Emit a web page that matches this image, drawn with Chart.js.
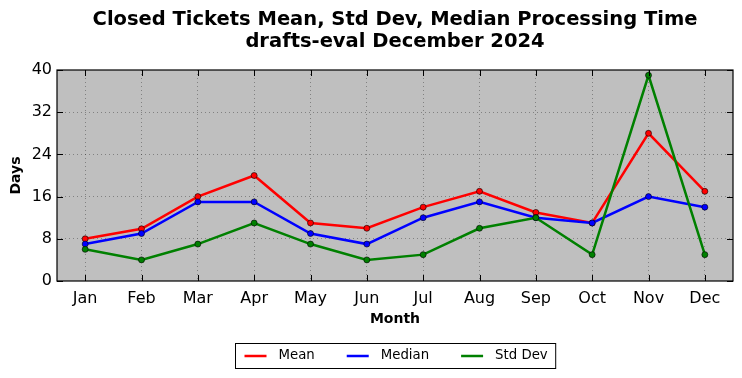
<!DOCTYPE html>
<html>
<head>
<meta charset="utf-8">
<script src="https://cdn.jsdelivr.net/npm/chart.js@4"></script>
<style>
html,body{margin:0;padding:0;background:#fff;}
#wrap{width:742px;height:378px;position:relative;}
</style>
</head>
<body>
<div id="wrap"><canvas id="c" width="742" height="378"></canvas></div>
<script>
const months = ['Jan','Feb','Mar','Apr','May','Jun','Jul','Aug','Sep','Oct','Nov','Dec'];
const meanDays = [8, 9.9, 16, 20, 11, 10, 14, 17, 13, 11, 28, 17];
const medianDays = [7, 9, 15, 15, 9, 7, 12, 15, 12, 11, 16, 14];
const stdDevDays = [6, 4, 7, 11, 7, 4, 5, 10, 12, 5, 39, 5];
const yTicks = [0, 8, 16, 24, 32, 40];
const seriesNames = ['Mean', 'Median', 'Std Dev'];
const seriesColors = ['#ff0000', '#0000ff', '#008000'];
const titleLines = ['Closed Tickets Mean, Std Dev, Median Processing Time', 'drafts-eval December 2024'];

const FONT = "'DejaVu Sans', 'Liberation Sans', sans-serif";

const framePlugin = {
  id: 'frame',
  beforeDraw(chart) {
    const {ctx, chartArea: a} = chart;
    ctx.save();
    ctx.fillStyle = '#bfbfbf';
    ctx.fillRect(a.left, a.top, a.right - a.left, a.bottom - a.top);
    ctx.restore();
  },
  afterDraw(chart) {
    const {ctx, chartArea: a} = chart;
    const xs = chart.scales.x, ys = chart.scales.y;
    ctx.save();
    ctx.strokeStyle = '#000';
    ctx.lineWidth = 1;
    ctx.beginPath();
    const tl = 6;
    xs.ticks.forEach((t, i) => {
      const x = Math.round(xs.getPixelForTick(i)) + 0.5;
      ctx.moveTo(x, a.bottom); ctx.lineTo(x, a.bottom - tl);
      ctx.moveTo(x, a.top); ctx.lineTo(x, a.top + tl);
    });
    ys.ticks.forEach((t, i) => {
      const y = Math.round(ys.getPixelForTick(i)) + 0.5;
      ctx.moveTo(a.left, y); ctx.lineTo(a.left + tl, y);
      ctx.moveTo(a.right, y); ctx.lineTo(a.right - tl, y);
    });
    ctx.stroke();
    ctx.lineWidth = 1.2;
    ctx.strokeRect(a.left, a.top, a.right - a.left, a.bottom - a.top);

    // legend
    ctx.font = '13.3px ' + FONT;
    ctx.textBaseline = 'middle';
    const padL = 9, padR = 8, lineLen = 22, lineGap = 12, itemGap = 32;
    const widths = seriesNames.map(n => ctx.measureText(n).width);
    let total = padL + padR;
    widths.forEach((w, i) => { total += lineLen + lineGap + w + (i < widths.length - 1 ? itemGap : 0); });
    const cx = (a.left + a.right) / 2;
    const bx = Math.round(cx - total / 2) + 0.5;
    const by = 343.5, bh = 25;
    ctx.fillStyle = '#fff';
    ctx.fillRect(bx, by, total, bh);
    ctx.strokeStyle = '#000';
    ctx.lineWidth = 1;
    ctx.strokeRect(bx, by, total, bh);
    let x = bx + padL;
    const ym = by + bh / 2;
    seriesNames.forEach((n, i) => {
      ctx.strokeStyle = seriesColors[i];
      ctx.lineWidth = 2.5;
      ctx.beginPath();
      ctx.moveTo(x, ym); ctx.lineTo(x + lineLen, ym);
      ctx.stroke();
      x += lineLen + lineGap;
      ctx.fillStyle = '#000';
      ctx.fillText(n, x, ym);
      x += widths[i] + itemGap;
    });
    ctx.restore();
  }
};

const seriesData = [meanDays, medianDays, stdDevDays];
const datasets = seriesNames.map((n, i) => ({
  label: n,
  data: seriesData[i],
  borderColor: seriesColors[i],
  backgroundColor: seriesColors[i],
  borderWidth: 2.5,
  pointRadius: 3,
  pointBorderColor: 'rgba(0,0,0,0.75)',
  pointBorderWidth: 0.8,
  pointBackgroundColor: seriesColors[i],
  tension: 0,
  fill: false,
  order: 2 - i
}));

const gridColor = 'rgba(0,0,0,0.32)';

new Chart(document.getElementById('c'), {
  type: 'line',
  data: { labels: months, datasets },
  options: {
    responsive: false,
    animation: false,
    devicePixelRatio: 1,
    layout: { padding: { left: 0, right: 9, top: 0, bottom: 50 } },
    plugins: {
      legend: { display: false },
      tooltip: { enabled: false },
      title: {
        display: true,
        text: titleLines,
        fullSize: false,
        color: '#000',
        font: { family: FONT, size: 19.5, weight: 'bold', lineHeight: 22 / 19.5 },
        padding: { top: 9, bottom: 17 }
      }
    },
    scales: {
      x: {
        type: 'category',
        offset: true,
        grid: {
          offset: false,
          drawTicks: false,
          color: gridColor,
          lineWidth: 1
        },
        border: { display: false, dash: [1, 3] },
        ticks: { color: '#000', padding: 8, font: { family: FONT, size: 16 }, maxRotation: 0, autoSkip: false },
        title: { display: true, text: 'Month', color: '#000', font: { family: FONT, size: 14, weight: 'bold' }, padding: { top: 0, bottom: 0 } },
        afterFit(s) { s.height = 47; }
      },
      y: {
        min: 0,
        max: 40,
        afterBuildTicks(s) { s.ticks = yTicks.map(v => ({ value: v })); },
        grid: {
          drawTicks: false,
          color: (c) => (c.tick && (c.tick.value === 0 || c.tick.value === 40)) ? 'rgba(0,0,0,0)' : gridColor,
          lineWidth: 1
        },
        border: { display: false, dash: [1, 3] },
        ticks: { color: '#000', padding: 5, font: { family: FONT, size: 16 } },
        title: { display: true, text: 'Days', color: '#000', font: { family: FONT, size: 14, weight: 'bold' }, padding: { top: 8, bottom: 0 } },
        afterFit(s) { s.width = 57; }
      }
    }
  },
  plugins: [framePlugin]
});
</script>
</body>
</html>
